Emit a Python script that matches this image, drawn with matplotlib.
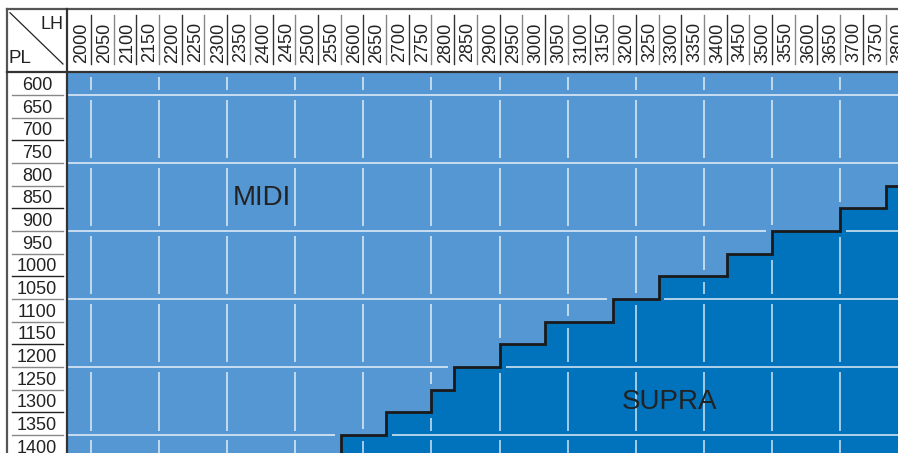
import matplotlib
matplotlib.use('Agg')
import matplotlib.pyplot as plt
from matplotlib.patches import Rectangle

plt.rcParams['font.family'] = ['Liberation Sans', 'DejaVu Sans']

# table axes: LH across the top, PL down the side
lh_values = list(range(2000, 3801, 50))
pl_values = list(range(600, 1401, 50))
# first LH column that falls in SUPRA, per PL row
supra_pl = [1400, 1350, 1300, 1250, 1200, 1150, 1100, 1050, 1000, 950, 900, 850]
supra_lh = [2600, 2700, 2800, 2850, 2950, 3050, 3200, 3300, 3450, 3550, 3700, 3800]
zone_labels = ['MIDI', 'SUPRA']
zone_x = [2401, 3300]
zone_y = [852, 1303]

light = '#5497d3'
dark = '#0073bc'
ink = '#222222'

half = 25
x0, x1 = 1824.6, 3802.5      # figure edges in LH units
yb, yt = 1414.6, 415.5       # bottom / top in PL units
grid_left = lh_values[0] - half
grid_top = pl_values[0] - half
frame_top = 435.4
frame_left = 1840.6

fig = plt.figure(figsize=(8.98, 4.53), dpi=100)
ax = fig.add_axes([0, 0, 1, 1])
ax.set_xlim(x0, x1)
ax.set_ylim(yb, yt)
ax.axis('off')

ax.add_patch(Rectangle((grid_left, grid_top), x1 - grid_left + 10, yb - grid_top + 10,
                       color=light, zorder=0, lw=0))

# step boundary between MIDI and SUPRA
sx = [supra_lh[0] - half]
sy = [yb + 10]
for i in range(len(supra_pl)):
    top = supra_pl[i] - half
    sx.append(supra_lh[i] - half)
    sy.append(top)
    nxt = supra_lh[i + 1] - half if i + 1 < len(supra_lh) else x1 + 10
    sx.append(nxt)
    sy.append(top)
ax.fill(sx + [x1 + 10], sy + [yb + 10], color=dark, lw=0, zorder=1)

steps = list(zip(zip(sx[:-1], sy[:-1]), zip(sx[1:], sy[1:])))
gap = 13


def cut(a, b, c, horizontal):
    # drop the parts of a grid line that come close to the step line
    pieces = [(a, b)]
    for (px, py), (qx, qy) in steps:
        if horizontal:
            lo, hi = min(py, qy), max(py, qy)
            if c < lo - gap or c > hi + gap:
                continue
            r0, r1 = min(px, qx) - gap, max(px, qx) + gap
        else:
            lo, hi = min(px, qx), max(px, qx)
            if c < lo - gap or c > hi + gap:
                continue
            r0, r1 = min(py, qy) - gap, max(py, qy) + gap
        new = []
        for s, e in pieces:
            if e <= r0 or s >= r1:
                new.append((s, e))
            else:
                if s < r0:
                    new.append((s, r0))
                if e > r1:
                    new.append((r1, e))
        pieces = new
    return pieces


# white grid: full horizontal lines every 3 rows, broken verticals every 3 columns
hlines = [grid_top + 50] + [grid_top + 50 + 150 * k for k in range(1, 6)]
for y in hlines:
    for s, e in cut(grid_left, x1 + 10, y, True):
        ax.plot([s, e], [y, y], color='white', alpha=0.8, lw=1.2, zorder=2,
                solid_capstyle='butt')
blocks = [grid_top] + hlines + [yb + 30]
for x in range(lh_values[0] + half, int(x1), 150):
    for b0, b1 in zip(blocks[:-1], blocks[1:]):
        for s, e in cut(b0 + 10, b1 - 10, x, False):
            ax.plot([x, x], [s, e], color='white', alpha=0.75, lw=1.2, zorder=2,
                    solid_capstyle='butt')

ax.plot(sx, sy, color='#1a1a1a', lw=2, zorder=3, solid_joinstyle='miter')

for lab, zx, zy in zip(zone_labels, zone_x, zone_y):
    ax.text(zx, zy, lab, fontsize=20, color=ink, ha='center', va='center', zorder=4)

# header labels
for i, lh in enumerate(lh_values):
    ax.text(lh + 15, 509, str(lh), rotation=90, rotation_mode='anchor',
            ha='center', va='baseline', fontsize=13, color=ink)
    if i < len(lh_values) - 1:
        ax.plot([lh + half] * 2, [449, 557], color='#333333' if i % 2 == 0 else '#888888',
                lw=1)

# row labels
for i, pl in enumerate(pl_values):
    ax.text(1906, pl + 14, str(pl), ha='center', va='baseline', fontsize=13, color=ink)
    if i < len(pl_values) - 1:
        b = pl + half
        ax.plot([1850, 1963], [b, b], lw=1,
                color='#222222' if (b - grid_top) % 150 == 0 else '#888888')

# frame
fc = '#555555'
ax.plot([frame_left, x1 + 10], [frame_top, frame_top], color=fc, lw=1.6)
ax.plot([frame_left, frame_left], [frame_top, yb + 10], color=fc, lw=1.6)
ax.plot([1971.5, 1971.5], [frame_top, yb + 10], color='#333333', lw=1.6)
ax.plot([frame_left, x1 + 10], [574.3, 574.3], color='#333333', lw=1.6)
ax.plot([1846.6, 1963.3], [443.6, 556.7], color=ink, lw=0.9)
ax.text(1939.5, 480, 'LH', ha='center', va='baseline', fontsize=13, color=ink)
ax.text(1867.5, 555, 'PL', ha='center', va='baseline', fontsize=13.5, color=ink)

fig.savefig('out.png', dpi=100, facecolor='white')
